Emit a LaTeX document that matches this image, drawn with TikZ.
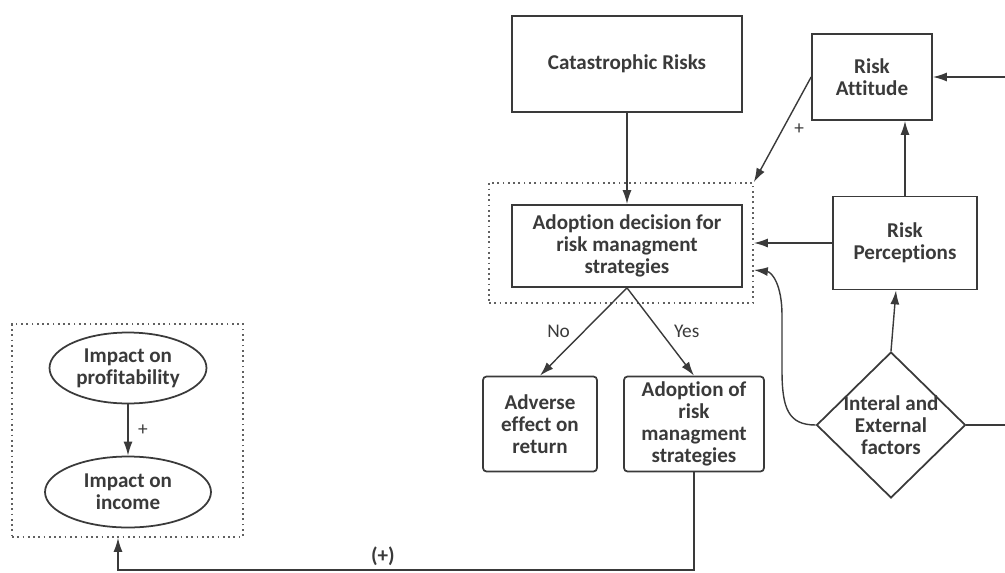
\documentclass[tikz,border=0pt]{standalone}
\usepackage{fontspec}
\setmainfont{Carlito}[Ligatures=NoCommon]
\usetikzlibrary{arrows.meta,shapes.geometric}
\definecolor{ink}{RGB}{58,58,58}
\newcommand{\boxfont}{\fontsize{12}{12.6}\selectfont\bfseries}
\begin{document}
\begin{tikzpicture}[x=0.02cm,y=-0.02cm,
    box/.style={draw=ink,line width=1pt,align=center,text=ink,font=\boxfont,inner sep=1pt},
    oval/.style={draw=ink,line width=1pt,ellipse,align=center,text=ink,font=\boxfont,inner sep=-3pt},
    frame/.style={draw=ink!80,dotted,line width=1pt},
    arr/.style={draw=ink,line width=0.8pt,-{Latex[length=2.8mm,width=1.8mm]}},
    lbl/.style={text=ink,font=\fontsize{11}{12}\selectfont}]
  \useasboundingbox (0,0) rectangle (1005,572);
  \draw
    (627,64) node[box,minimum width=4.6cm,minimum height=1.92cm] (cat){Catastrophic Risks}
    (872,77) node[box,minimum width=2.4cm,minimum height=1.72cm] (att){Risk\\Attitude}
    (621,243) node[frame,minimum width=5.28cm,minimum height=2.4cm] (decbox){}
    (627,246) node[box,minimum width=4.6cm,minimum height=1.64cm] (dec){Adoption decision for\\risk managment\\strategies}
    (905,243) node[box,minimum width=2.88cm,minimum height=1.86cm] (perc){Risk\\Perceptions}
    (891,425) node[box,diamond,inner sep=-6pt,minimum width=2.98cm,minimum height=2.92cm] (fac){Interal and\\External\\factors}
    (540,424) node[box,rounded corners=2pt,minimum width=2.28cm,minimum height=1.9cm] (adv){Adverse\\effect on\\return}
    (694,424) node[box,rounded corners=2pt,minimum width=2.8cm,minimum height=1.9cm] (ado){Adoption of\\risk\\managment\\strategies}
    (127.5,430.5) node[frame,minimum width=4.62cm,minimum height=4.26cm] (impbox){}
    (128,368) node[oval,minimum width=3.14cm,minimum height=1.42cm] (prof){Impact on\\profitability}
    (128,492) node[oval,minimum width=3.32cm,minimum height=1.42cm] (inc){Impact on\\income};
  \coordinate (attin) at (1005,77);
  \coordinate (facout) at (1005,425);
  \coordinate (ret) at (118,570);
  \begin{scope}[arr]
    \draw (cat) to (dec);
    \draw (att.west) to node[lbl,right=3pt]{+} (decbox.north east);
    \draw (perc) to (decbox.east);
    \draw (perc.north) to (perc.north |- att.south);
    \draw (attin) to (att.east);
    \draw (fac.north) to ([xshift=-0.18cm]perc.south);
    \draw (fac.west) .. controls (788,425) and (782,408) .. (782,370)
      -- (782,315) .. controls (782,285) and (772,272) .. ([yshift=-0.54cm]decbox.east);
    \draw (dec.south) to node[lbl,left=4pt]{No} (adv.north);
    \draw (dec.south) to node[lbl,right=4pt]{Yes} (ado.north);
    \draw (prof) to node[lbl,right=2pt]{+} (inc);
    \draw (ado.south) |- node[pos=0.77,above=-1pt,text=ink,font=\boxfont]{(+)} (ret) -- (ret |- impbox.south);
  \end{scope}
  \draw[draw=ink,line width=0.8pt] (fac.east) -- (facout);
\end{tikzpicture}
\end{document}
